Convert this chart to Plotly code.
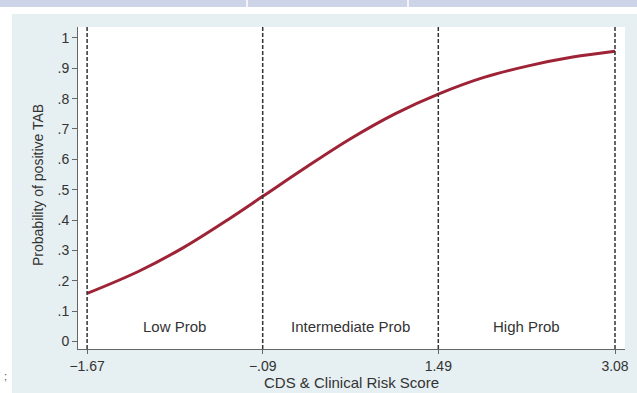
import plotly.graph_objects as go

# Data
score = [-1.67, -1.2, -0.8, -0.4, -0.09, 0.3, 0.7, 1.1, 1.49, 1.9, 2.3, 2.7, 3.08]
prob = [0.158, 0.232, 0.310, 0.402, 0.478, 0.574, 0.668, 0.750, 0.815, 0.870, 0.908, 0.937, 0.956]
cutoffs = [-1.67, -0.09, 1.49, 3.08]
cutoff_labels = ["\u22121.67", "\u2212.09", "1.49", "3.08"]
region_names = ["Low Prob", "Intermediate Prob", "High Prob"]
y_ticks = [0, 0.1, 0.2, 0.3, 0.4, 0.5, 0.6, 0.7, 0.8, 0.9, 1.0]
y_tick_labels = ["0", ".1", ".2", ".3", ".4", ".5", ".6", ".7", ".8", ".9", "1"]

W, H = 637, 393
ML, MR, MT, MB = 78, 12, 27, 44
PW, PH = W - ML - MR, H - MT - MB

def px_x(px):
    return (px - ML) / PW

def px_y(py):
    return (H - MB - py) / PH

font = "Liberation Sans, Arial, Helvetica, sans-serif"

fig = go.Figure()
fig.add_trace(go.Scatter(
    x=score, y=prob, mode="lines",
    line=dict(color="#9e2336", width=3, shape="spline"),
    hoverinfo="skip", showlegend=False,
))

shapes = []
# white margins and top band decorations
shapes.append(dict(type="rect", xref="paper", yref="paper",
                   x0=px_x(0), x1=px_x(12), y0=px_y(H), y1=px_y(0),
                   fillcolor="white", line=dict(width=0), layer="below"))
shapes.append(dict(type="rect", xref="paper", yref="paper",
                   x0=px_x(0), x1=px_x(W), y0=px_y(14), y1=px_y(0),
                   fillcolor="white", line=dict(width=0), layer="below"))
shapes.append(dict(type="rect", xref="paper", yref="paper",
                   x0=px_x(0), x1=px_x(W), y0=px_y(7), y1=px_y(0),
                   fillcolor="#cdd4e8", line=dict(width=0), layer="below"))
for sx in [247, 408]:
    shapes.append(dict(type="line", xref="paper", yref="paper",
                       x0=px_x(sx), x1=px_x(sx), y0=px_y(7), y1=px_y(0),
                       line=dict(color="white", width=1.5), layer="below"))
# dashed cutoff lines
for c in cutoffs:
    shapes.append(dict(type="line", xref="x", yref="paper",
                       x0=c, x1=c, y0=0, y1=1,
                       line=dict(color="#333333", width=1.5, dash="4px,2px")))

annotations = []
for i, name in enumerate(region_names):
    annotations.append(dict(
        x=(cutoffs[i] + cutoffs[i + 1]) / 2, y=0.05, xref="x", yref="y",
        xanchor="center", yanchor="middle",
        text=name, showarrow=False,
        font=dict(family=font, size=15, color="#333333")))
annotations.append(dict(x=px_x(5), y=px_y(376), xref="paper", yref="paper",
                        xanchor="center", yanchor="middle",
                        text=";", showarrow=False,
                        font=dict(family=font, size=11, color="#555555")))
# axis titles placed as annotations for exact positioning
annotations.append(dict(x=px_x(351), y=px_y(382), xref="paper", yref="paper",
                        xanchor="center", yanchor="middle",
                        text="CDS & Clinical Risk Score", showarrow=False,
                        font=dict(family=font, size=15, color="#333333")))
annotations.append(dict(x=px_x(38), y=px_y(185), xref="paper", yref="paper",
                        xanchor="center", yanchor="middle",
                        text="Probability of positive TAB", showarrow=False,
                        textangle=-90,
                        font=dict(family=font, size=14, color="#333333")))

fig.update_layout(
    width=W, height=H,
    margin=dict(l=ML, r=MR, t=MT, b=MB, autoexpand=False),
    paper_bgcolor="#e6eff1",
    plot_bgcolor="white",
    shapes=shapes,
    annotations=annotations,
    showlegend=False,
    xaxis=dict(
        range=[-1.752, 3.17], automargin=False,
        tickvals=cutoffs, ticktext=cutoff_labels,
        showgrid=False, zeroline=False,
        showline=True, linecolor="#666666", linewidth=1,
        ticks="outside", ticklen=4, tickcolor="#666666",
        tickfont=dict(family=font, size=14, color="#333333"),
    ),
    yaxis=dict(
        range=[-0.025, 1.036], automargin=False,
        tickvals=y_ticks, ticktext=y_tick_labels,
        showgrid=False, zeroline=False,
        showline=True, linecolor="#666666", linewidth=1,
        ticks="outside", ticklen=5, tickcolor="#666666",
        tickfont=dict(family=font, size=14, color="#333333"),
    ),
)

fig.write_html("out.html")
